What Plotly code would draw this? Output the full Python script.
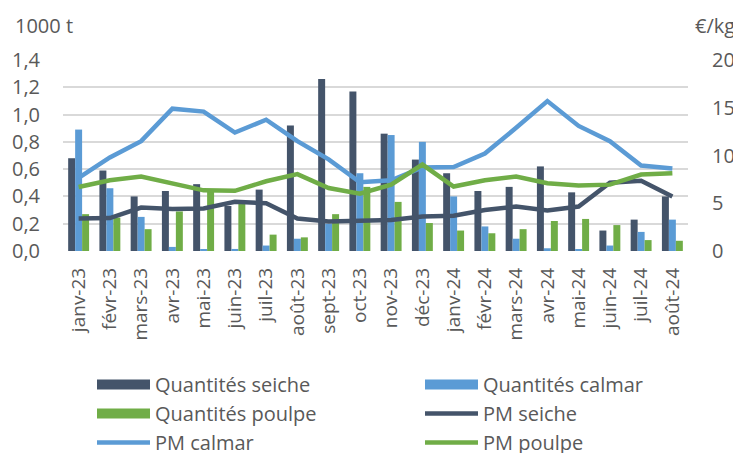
import plotly.graph_objects as go

months = ["janv-23", "févr-23", "mars-23", "avr-23", "mai-23", "juin-23", "juil-23", "août-23",
          "sept-23", "oct-23", "nov-23", "déc-23", "janv-24", "févr-24", "mars-24", "avr-24",
          "mai-24", "juin-24", "juil-24", "août-24"]

q_seiche = [0.68, 0.59, 0.40, 0.44, 0.49, 0.33, 0.45, 0.92, 1.26, 1.17, 0.86, 0.67,
            0.57, 0.44, 0.47, 0.62, 0.43, 0.15, 0.23, 0.40]
q_calmar = [0.89, 0.46, 0.25, 0.03, 0.01, 0.015, 0.04, 0.09, 0.20, 0.57, 0.85, 0.80,
            0.40, 0.18, 0.09, 0.02, 0.01, 0.04, 0.14, 0.23]
q_poulpe = [0.27, 0.245, 0.16, 0.29, 0.44, 0.35, 0.12, 0.10, 0.27, 0.47, 0.36, 0.205,
            0.15, 0.13, 0.16, 0.22, 0.235, 0.19, 0.08, 0.075]

pm_seiche = [3.4, 3.45, 4.55, 4.4, 4.45, 5.15, 5.0, 3.4, 3.1, 3.15, 3.25, 3.6,
             3.7, 4.3, 4.65, 4.25, 4.65, 7.15, 7.35, 5.7]
pm_calmar = [7.65, 9.8, 11.5, 14.9, 14.6, 12.4, 13.75, 11.5, 9.6, 7.2, 7.4, 8.75,
             8.8, 10.2, 12.9, 15.7, 13.1, 11.5, 8.95, 8.65]
pm_poulpe = [6.7, 7.4, 7.8, 7.1, 6.35, 6.3, 7.3, 8.05, 6.6, 6.0, 6.95, 9.05,
             6.75, 7.4, 7.8, 7.1, 6.85, 6.95, 8.0, 8.15]

C_SEICHE = "#44546A"
C_CALMAR = "#5B9BD5"
C_POULPE = "#70AD47"
TXT = "#595959"
FONT = "'Open Sans', sans-serif"

fig = go.Figure()
# bars
for name, vals, col in [("Quantités seiche", q_seiche, C_SEICHE),
                        ("Quantités calmar", q_calmar, C_CALMAR),
                        ("Quantités poulpe", q_poulpe, C_POULPE)]:
    fig.add_trace(go.Bar(x=months, y=vals, name=name, marker_color=col,
                         marker_line_width=0, showlegend=False, legendgroup=name))

# legend layout: two columns (legend = left column, legend2 = right column)
legend_of = {"Quantités seiche": "legend", "Quantités poulpe": "legend", "PM calmar": "legend",
             "Quantités calmar": "legend2", "PM seiche": "legend2", "PM poulpe": "legend2"}

# legend swatches for bars (rectangular)
for name, col in [("Quantités seiche", C_SEICHE), ("Quantités calmar", C_CALMAR),
                  ("Quantités poulpe", C_POULPE)]:
    fig.add_trace(go.Scatter(x=[None], y=[None], name=name, mode="lines",
                             line=dict(color=col, width=12), legendgroup=name,
                             legend=legend_of[name]))
# price lines
for name, vals, col in [("PM seiche", pm_seiche, C_SEICHE),
                        ("PM calmar", pm_calmar, C_CALMAR),
                        ("PM poulpe", pm_poulpe, C_POULPE)]:
    fig.add_trace(go.Scatter(x=months, y=vals, name=name, mode="lines",
                             line=dict(color=col, width=4.5), yaxis="y2",
                             legend=legend_of[name]))

# order entries inside each column
rank = {"Quantités seiche": 1, "Quantités poulpe": 2, "PM calmar": 3,
        "Quantités calmar": 1, "PM seiche": 2, "PM poulpe": 3}
for tr in fig.data:
    if tr.name in rank:
        tr.legendrank = rank[tr.name]

leg_common = dict(orientation="v", yanchor="top", xanchor="left",
                  font=dict(family=FONT, size=20, color=TXT),
                  itemwidth=53, bgcolor="rgba(0,0,0,0)", traceorder="normal")

fig.update_layout(
    width=733, height=445,
    margin=dict(l=55, r=53, t=52, b=202, autoexpand=False),
    paper_bgcolor="white", plot_bgcolor="white",
    separators=", ",
    font=dict(family=FONT, color=TXT, size=20),
    barmode="group", bargap=0.33, bargroupgap=0,
    showlegend=True,
    legend=dict(x=0.0464, y=-0.597, **leg_common),
    legend2=dict(x=0.5712, y=-0.597, **leg_common),
    xaxis=dict(tickangle=-90, tickfont=dict(size=19, color=TXT), showgrid=False,
               showline=False, ticks="", type="category", automargin=False,
               ticklabelstandoff=12),
    yaxis=dict(range=[0, 1.4], dtick=0.2, tickformat=".1f", showgrid=True,
               gridcolor="#D9D9D9", gridwidth=1.5, zeroline=False, automargin=False,
               tickfont=dict(size=20, color=TXT), ticks="", ticklabelstandoff=22),
    yaxis2=dict(range=[0, 20], dtick=5, overlaying="y", side="right", showgrid=False,
                zeroline=False, tickfont=dict(size=20, color=TXT), ticks="",
                automargin=False, ticklabelstandoff=23),
)
fig.add_annotation(text="1000 t", xref="paper", yref="paper", x=-0.08, y=1.183,
                   xanchor="left", yanchor="middle", showarrow=False,
                   font=dict(size=20, color=TXT))
fig.add_annotation(text="€/kg", xref="paper", yref="paper", x=1.0784, y=1.183,
                   xanchor="right", yanchor="middle", showarrow=False,
                   font=dict(size=20, color=TXT))

fig.write_html("out.html")
